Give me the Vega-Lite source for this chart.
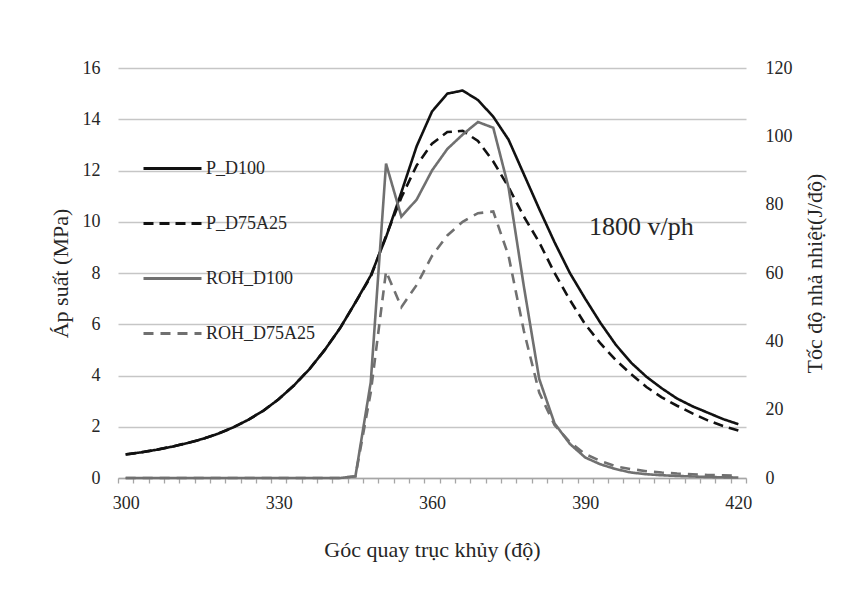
{
  "$schema": "https://vega.github.io/schema/vega-lite/v6.json",
  "width": 628,
  "height": 410,
  "autosize": {"type": "none"},
  "padding": {"left": 118, "top": 68, "right": 119, "bottom": 111},
  "background": "white",
  "config": {
    "font": "Liberation Serif",
    "view": {"stroke": null},
    "axis": {
      "labelFont": "Liberation Serif",
      "titleFont": "Liberation Serif",
      "labelColor": "#262626",
      "titleColor": "#262626",
      "labelFontSize": 18,
      "titleFontSize": 22,
      "titleFontWeight": "normal"
    },
    "legend": {
      "orient": "none",
      "legendX": 24,
      "legendY": 70,
      "symbolType": "stroke",
      "symbolSize": 3364,
      "symbolStrokeWidth": 3,
      "labelFont": "Liberation Serif",
      "labelFontSize": 18,
      "labelColor": "#262626",
      "labelOffset": 3,
      "rowPadding": 15,
      "padding": 0,
      "title": null
    }
  },
  "data": {
    "values": [
      {"a":300,"s":"P_D100","v":0.92},{"a":303,"s":"P_D100","v":1.0},{"a":306,"s":"P_D100","v":1.1},{"a":309,"s":"P_D100","v":1.22},{"a":312,"s":"P_D100","v":1.36},{"a":315,"s":"P_D100","v":1.52},{"a":318,"s":"P_D100","v":1.72},{"a":321,"s":"P_D100","v":1.97},{"a":324,"s":"P_D100","v":2.27},{"a":327,"s":"P_D100","v":2.63},{"a":330,"s":"P_D100","v":3.08},{"a":333,"s":"P_D100","v":3.62},{"a":336,"s":"P_D100","v":4.25},{"a":339,"s":"P_D100","v":5.0},{"a":342,"s":"P_D100","v":5.85},{"a":345,"s":"P_D100","v":6.85},{"a":348,"s":"P_D100","v":7.9},{"a":351,"s":"P_D100","v":9.4},{"a":354,"s":"P_D100","v":11.15},{"a":357,"s":"P_D100","v":12.95},{"a":360,"s":"P_D100","v":14.3},{"a":363,"s":"P_D100","v":15.0},{"a":366,"s":"P_D100","v":15.12},{"a":369,"s":"P_D100","v":14.75},{"a":372,"s":"P_D100","v":14.1},{"a":375,"s":"P_D100","v":13.2},{"a":378,"s":"P_D100","v":11.85},{"a":381,"s":"P_D100","v":10.5},{"a":384,"s":"P_D100","v":9.2},{"a":387,"s":"P_D100","v":8.0},{"a":390,"s":"P_D100","v":7.0},{"a":393,"s":"P_D100","v":6.05},{"a":396,"s":"P_D100","v":5.2},{"a":399,"s":"P_D100","v":4.5},{"a":402,"s":"P_D100","v":3.95},{"a":405,"s":"P_D100","v":3.5},{"a":408,"s":"P_D100","v":3.1},{"a":411,"s":"P_D100","v":2.8},{"a":414,"s":"P_D100","v":2.55},{"a":417,"s":"P_D100","v":2.3},{"a":420,"s":"P_D100","v":2.1},
      {"a":300,"s":"P_D75A25","v":0.92},{"a":303,"s":"P_D75A25","v":1.0},{"a":306,"s":"P_D75A25","v":1.1},{"a":309,"s":"P_D75A25","v":1.22},{"a":312,"s":"P_D75A25","v":1.36},{"a":315,"s":"P_D75A25","v":1.52},{"a":318,"s":"P_D75A25","v":1.72},{"a":321,"s":"P_D75A25","v":1.97},{"a":324,"s":"P_D75A25","v":2.27},{"a":327,"s":"P_D75A25","v":2.63},{"a":330,"s":"P_D75A25","v":3.08},{"a":333,"s":"P_D75A25","v":3.62},{"a":336,"s":"P_D75A25","v":4.25},{"a":339,"s":"P_D75A25","v":5.0},{"a":342,"s":"P_D75A25","v":5.85},{"a":345,"s":"P_D75A25","v":6.85},{"a":348,"s":"P_D75A25","v":7.85},{"a":351,"s":"P_D75A25","v":9.45},{"a":354,"s":"P_D75A25","v":10.95},{"a":357,"s":"P_D75A25","v":12.2},{"a":360,"s":"P_D75A25","v":13.05},{"a":363,"s":"P_D75A25","v":13.5},{"a":366,"s":"P_D75A25","v":13.55},{"a":369,"s":"P_D75A25","v":13.15},{"a":372,"s":"P_D75A25","v":12.35},{"a":375,"s":"P_D75A25","v":11.35},{"a":378,"s":"P_D75A25","v":10.2},{"a":381,"s":"P_D75A25","v":9.2},{"a":384,"s":"P_D75A25","v":8.0},{"a":387,"s":"P_D75A25","v":6.95},{"a":390,"s":"P_D75A25","v":6.0},{"a":393,"s":"P_D75A25","v":5.25},{"a":396,"s":"P_D75A25","v":4.6},{"a":399,"s":"P_D75A25","v":4.05},{"a":402,"s":"P_D75A25","v":3.55},{"a":405,"s":"P_D75A25","v":3.15},{"a":408,"s":"P_D75A25","v":2.82},{"a":411,"s":"P_D75A25","v":2.52},{"a":414,"s":"P_D75A25","v":2.25},{"a":417,"s":"P_D75A25","v":2.03},{"a":420,"s":"P_D75A25","v":1.85},
      {"a":300,"s":"ROH_D100","v":0},{"a":303,"s":"ROH_D100","v":0},{"a":306,"s":"ROH_D100","v":0},{"a":309,"s":"ROH_D100","v":0},{"a":312,"s":"ROH_D100","v":0},{"a":315,"s":"ROH_D100","v":0},{"a":318,"s":"ROH_D100","v":0},{"a":321,"s":"ROH_D100","v":0},{"a":324,"s":"ROH_D100","v":0},{"a":327,"s":"ROH_D100","v":0},{"a":330,"s":"ROH_D100","v":0},{"a":333,"s":"ROH_D100","v":0},{"a":336,"s":"ROH_D100","v":0},{"a":339,"s":"ROH_D100","v":0},{"a":342,"s":"ROH_D100","v":0},{"a":345,"s":"ROH_D100","v":0.5},{"a":348,"s":"ROH_D100","v":28},{"a":351,"s":"ROH_D100","v":92},{"a":354,"s":"ROH_D100","v":76.5},{"a":357,"s":"ROH_D100","v":81.5},{"a":360,"s":"ROH_D100","v":90},{"a":363,"s":"ROH_D100","v":96.3},{"a":366,"s":"ROH_D100","v":100.5},{"a":369,"s":"ROH_D100","v":104.2},{"a":372,"s":"ROH_D100","v":102.5},{"a":375,"s":"ROH_D100","v":85},{"a":378,"s":"ROH_D100","v":56},{"a":381,"s":"ROH_D100","v":29},{"a":384,"s":"ROH_D100","v":16},{"a":387,"s":"ROH_D100","v":10},{"a":390,"s":"ROH_D100","v":6},{"a":393,"s":"ROH_D100","v":4.0},{"a":396,"s":"ROH_D100","v":2.6},{"a":399,"s":"ROH_D100","v":1.6},{"a":402,"s":"ROH_D100","v":1.1},{"a":405,"s":"ROH_D100","v":0.8},{"a":408,"s":"ROH_D100","v":0.6},{"a":411,"s":"ROH_D100","v":0.45},{"a":414,"s":"ROH_D100","v":0.3},{"a":417,"s":"ROH_D100","v":0.2},{"a":420,"s":"ROH_D100","v":0.15},
      {"a":300,"s":"ROH_D75A25","v":0},{"a":303,"s":"ROH_D75A25","v":0},{"a":306,"s":"ROH_D75A25","v":0},{"a":309,"s":"ROH_D75A25","v":0},{"a":312,"s":"ROH_D75A25","v":0},{"a":315,"s":"ROH_D75A25","v":0},{"a":318,"s":"ROH_D75A25","v":0},{"a":321,"s":"ROH_D75A25","v":0},{"a":324,"s":"ROH_D75A25","v":0},{"a":327,"s":"ROH_D75A25","v":0},{"a":330,"s":"ROH_D75A25","v":0},{"a":333,"s":"ROH_D75A25","v":0},{"a":336,"s":"ROH_D75A25","v":0},{"a":339,"s":"ROH_D75A25","v":0},{"a":342,"s":"ROH_D75A25","v":0},{"a":345,"s":"ROH_D75A25","v":0.5},{"a":348,"s":"ROH_D75A25","v":25},{"a":351,"s":"ROH_D75A25","v":60.5},{"a":354,"s":"ROH_D75A25","v":50},{"a":357,"s":"ROH_D75A25","v":56.5},{"a":360,"s":"ROH_D75A25","v":65},{"a":363,"s":"ROH_D75A25","v":71},{"a":366,"s":"ROH_D75A25","v":75},{"a":369,"s":"ROH_D75A25","v":77.5},{"a":372,"s":"ROH_D75A25","v":78},{"a":375,"s":"ROH_D75A25","v":65},{"a":378,"s":"ROH_D75A25","v":43},{"a":381,"s":"ROH_D75A25","v":25},{"a":384,"s":"ROH_D75A25","v":15.5},{"a":387,"s":"ROH_D75A25","v":10.5},{"a":390,"s":"ROH_D75A25","v":7},{"a":393,"s":"ROH_D75A25","v":5},{"a":396,"s":"ROH_D75A25","v":3.4},{"a":399,"s":"ROH_D75A25","v":2.6},{"a":402,"s":"ROH_D75A25","v":2.0},{"a":405,"s":"ROH_D75A25","v":1.6},{"a":408,"s":"ROH_D75A25","v":1.3},{"a":411,"s":"ROH_D75A25","v":1.1},{"a":414,"s":"ROH_D75A25","v":0.9},{"a":417,"s":"ROH_D75A25","v":0.8},{"a":420,"s":"ROH_D75A25","v":0.6}
    ]
  },
  "layer": [
    {
      "layer": [
        {
          "transform": [{"filter": "datum.s == 'P_D100' || datum.s == 'P_D75A25'"}],
          "mark": {"type": "line", "strokeWidth": 2.6},
          "encoding": {
            "x": {
              "field": "a", "type": "quantitative",
              "scale": {"domain": [298.5, 421.5], "nice": false, "zero": false},
              "axis": {"values": [300, 330, 360, 390, 420], "ticks": false, "grid": false, "domainColor": "#a6a6a6", "domainWidth": 1.3, "labelPadding": 16, "title": "Góc quay trục khủy (độ)", "titlePadding": 27}
            },
            "y": {
              "field": "v", "type": "quantitative",
              "scale": {"domain": [0, 16], "nice": false},
              "axis": {"values": [0, 2, 4, 6, 8, 10, 12, 14, 16], "grid": true, "gridColor": "#c6c6c6", "gridWidth": 1.4, "domain": false, "ticks": false, "labelPadding": 18, "title": "Áp suất (MPa)", "titlePadding": 10}
            },
            "color": {
              "field": "s", "type": "nominal",
              "scale": {"domain": ["P_D100", "P_D75A25", "ROH_D100", "ROH_D75A25"], "range": ["#111111", "#111111", "#707070", "#707070"]},
              "legend": {"title": null}
            },
            "strokeDash": {
              "field": "s", "type": "nominal",
              "scale": {"domain": ["P_D100", "P_D75A25", "ROH_D100", "ROH_D75A25"], "range": [[1, 0], [10, 6], [1, 0], [10, 7]]},
              "legend": {"title": null}
            }
          }
        },
        {
          "data": {"values": [{"a": 401, "v": 9.8, "t": "1800 v/ph"}]},
          "mark": {"type": "text", "fontSize": 26, "font": "Liberation Serif", "color": "#262626", "align": "center", "baseline": "middle"},
          "encoding": {
            "x": {"field": "a", "type": "quantitative", "scale": {"domain": [298.5, 421.5], "nice": false, "zero": false}},
            "y": {"field": "v", "type": "quantitative", "scale": {"domain": [0, 16], "nice": false}},
            "text": {"field": "t"}
          }
        }
      ]
    },
    {
      "transform": [{"filter": "datum.s == 'ROH_D100' || datum.s == 'ROH_D75A25'"}],
      "mark": {"type": "line", "strokeWidth": 2.6},
      "encoding": {
        "x": {
          "field": "a", "type": "quantitative",
          "scale": {"domain": [298.5, 421.5], "nice": false, "zero": false},
          "axis": {"orient": "bottom", "values": [298.5,301.5,304.5,307.5,310.5,313.5,316.5,319.5,322.5,325.5,328.5,331.5,334.5,337.5,340.5,343.5,346.5,349.5,352.5,355.5,358.5,361.5,364.5,367.5,370.5,373.5,376.5,379.5,382.5,385.5,388.5,391.5,394.5,397.5,400.5,403.5,406.5,409.5,412.5,415.5,418.5,421.5], "labels": false, "domain": false, "grid": false, "ticks": true, "tickSize": 5, "tickColor": "#a6a6a6", "tickWidth": 1.3, "title": null}
        },
        "y": {
          "field": "v", "type": "quantitative",
          "scale": {"domain": [0, 120], "nice": false},
          "axis": {"orient": "right", "values": [0, 20, 40, 60, 80, 100, 120], "grid": false, "domain": false, "ticks": false, "labelPadding": 19, "title": "Tốc độ nhả nhiệt(J/độ)", "titleAngle": -90, "titlePadding": 34}
        },
        "color": {
          "field": "s", "type": "nominal",
          "scale": {"domain": ["P_D100", "P_D75A25", "ROH_D100", "ROH_D75A25"], "range": ["#111111", "#111111", "#707070", "#707070"]},
          "legend": {"title": null}
        },
        "strokeDash": {
          "field": "s", "type": "nominal",
          "scale": {"domain": ["P_D100", "P_D75A25", "ROH_D100", "ROH_D75A25"], "range": [[1, 0], [10, 6], [1, 0], [10, 7]]},
          "legend": {"title": null}
        }
      }
    }
  ],
  "resolve": {"scale": {"y": "independent"}, "axis": {"x": "independent"}}
}
